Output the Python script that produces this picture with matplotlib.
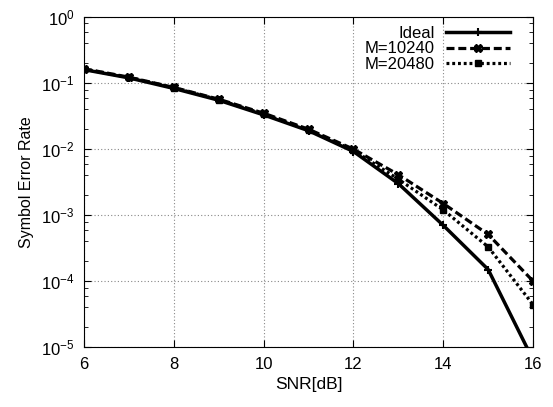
import matplotlib
matplotlib.use("Agg")
import matplotlib.pyplot as plt
from matplotlib.ticker import LogLocator, NullFormatter, FixedLocator

plt.rcParams['font.family'] = ['Liberation Sans', 'DejaVu Sans']

# data
snr = [6, 7, 8, 9, 10, 11, 12, 13, 14, 15, 16]
ser_ideal = [0.16, 0.12, 0.083, 0.055, 0.033, 0.019, 0.0092, 0.0030, 0.00070, 0.00015, 0.0000064]
ser_m10240 = [0.165, 0.123, 0.086, 0.057, 0.035, 0.020, 0.0100, 0.0041, 0.0015, 0.00051, 0.000100]
ser_m20480 = [0.163, 0.122, 0.085, 0.056, 0.034, 0.0195, 0.0096, 0.0035, 0.0012, 0.00033, 0.000044]

fig = plt.figure(figsize=(5.53, 4.07), dpi=100)
ax = fig.add_axes([0.152, 0.147, 0.812, 0.811])

ax.plot(snr, ser_ideal, color='black', lw=2.5, ls='-', marker='+', ms=6, mew=1.5, label='Ideal')
ax.plot(snr, ser_m10240, color='black', lw=2.3, ls=(0, (2.5, 1.2)), marker='X', ms=6, label='M=10240')
ax.plot(snr, ser_m20480, color='black', lw=2.3, ls=(0, (0.9, 0.9)), marker='s', ms=4.5, label='M=20480')

ax.set_yscale('log')
ax.set_xlim(6, 16)
ax.set_ylim(1e-5, 1)
ax.xaxis.set_major_locator(FixedLocator([6, 8, 10, 12, 14, 16]))
ax.yaxis.set_major_locator(LogLocator(base=10, numticks=10))
ax.yaxis.set_minor_locator(LogLocator(base=10, subs=(2, 4, 6, 8), numticks=10))
ax.yaxis.set_minor_formatter(NullFormatter())
ax.tick_params(which='both', direction='in', top=True, right=True, labelsize=12)
ax.tick_params(which='major', length=5, pad=7)
ax.tick_params(which='minor', length=3)

ax.grid(True, which='major', color='#888888', ls=(0, (1, 2)), lw=0.8)

ax.set_xlabel('SNR[dB]', fontsize=12.5, labelpad=4)
ax.set_ylabel('Symbol Error Rate', fontsize=11.5, labelpad=5)

leg = ax.legend(loc='upper right', frameon=False, fontsize=12, markerfirst=False,
                handlelength=3.8, handletextpad=0.7, borderaxespad=1.0, labelspacing=0.05,
                bbox_to_anchor=(1.0, 1.045))
for t in leg.get_texts():
    t.set_ha('right')

fig.savefig('out.png', dpi=100)
